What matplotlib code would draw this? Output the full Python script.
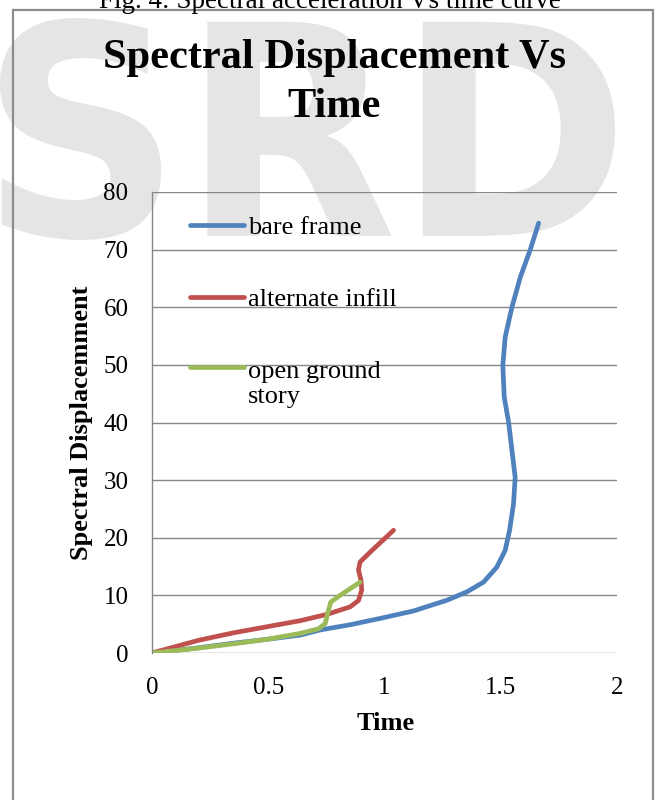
import matplotlib
matplotlib.use('Agg')
import matplotlib.pyplot as plt
from matplotlib.textpath import TextPath
from matplotlib.patches import PathPatch, Rectangle
from matplotlib.font_manager import FontProperties
from matplotlib.transforms import Affine2D

plt.rcParams['font.family'] = ['Liberation Serif', 'DejaVu Serif']

# values
bare_t = [0, 0.10, 0.20, 0.35, 0.50, 0.637, 0.723, 0.852, 0.981, 1.125, 1.268, 1.354,
          1.426, 1.483, 1.519, 1.538, 1.555, 1.562, 1.548, 1.534, 1.515, 1.509, 1.519,
          1.548, 1.584, 1.627, 1.663]
bare_d = [0, 0.45, 0.9, 1.7, 2.4, 3.1, 4.0, 4.9, 6.0, 7.3, 9.15, 10.6,
          12.3, 14.9, 17.8, 21.3, 25.9, 30.5, 35.2, 40.0, 44.4, 49.9, 54.8,
          60.0, 65.2, 70.0, 74.6]

alt_t = [0, 0.20, 0.35, 0.50, 0.637, 0.71, 0.752, 0.852, 0.888, 0.902, 0.899, 0.888,
         0.895, 0.946, 1.039]
alt_d = [0, 2.2, 3.5, 4.6, 5.6, 6.3, 6.7, 8.0, 9.1, 10.9, 12.6, 14.4,
         15.8, 17.8, 21.3]

ogs_t = [0, 0.20, 0.35, 0.50, 0.637, 0.716, 0.745, 0.759, 0.769, 0.809, 0.895]
ogs_d = [0, 0.85, 1.6, 2.4, 3.4, 4.2, 5.1, 7.4, 8.85, 10.0, 12.3]

series = [
    ('bare frame', bare_t, bare_d, '#4F81BD'),
    ('alternate infill', alt_t, alt_d, '#C0504D'),
    ('open ground\nstory', ogs_t, ogs_d, '#9BBB59'),
]

fig = plt.figure(figsize=(6.61, 8.0), dpi=100)
W, H = 661.0, 800.0

# faint watermark behind everything
tp = TextPath((0, 0), 'SRD', size=100,
              prop=FontProperties(family='DejaVu Sans', weight='bold'))
bb = tp.get_extents()
sx = 615.0 / bb.width / W
sy = 222.0 / bb.height / H
wm_tr = Affine2D().translate(-bb.x0, -bb.y0).scale(sx, sy).translate(0, 1 - 240 / H)
fig.add_artist(PathPatch(tp, transform=wm_tr + fig.transFigure,
                         facecolor='#e5e5e5', edgecolor='none', zorder=-2))

# outer frame of the chart
fig.add_artist(Rectangle((13 / W, -0.02), (653 - 13) / W, 1 - 10 / H + 0.02,
                         transform=fig.transFigure, fill=False,
                         edgecolor='#8c8c8c', lw=1.6, zorder=-1))

# cut-off caption at the very top
fig.text(330 / W, 1 - 8 / H, 'Fig. 4: Spectral acceleration Vs time curve',
         ha='center', va='baseline', fontsize=19.5)

ax = fig.add_axes([152 / W, 1 - 653 / H, (617 - 152) / W, (653 - 192) / H])
ax.set_facecolor('none')

for name, t, d, c in series:
    ax.plot(t, d, color=c, lw=3.4, solid_capstyle='round', solid_joinstyle='round')

ax.set_xlim(0, 2)
ax.set_ylim(0, 80)
ax.set_xticks([0, 0.5, 1, 1.5, 2])
ax.set_xticklabels(['0', '0.5', '1', '1.5', '2'])
ax.set_yticks(range(0, 81, 10))
ax.grid(axis='y', color='#878787', lw=1.0)
ax.set_axisbelow(True)
for s in ['top', 'right', 'bottom']:
    ax.spines[s].set_visible(False)
ax.spines['left'].set_color('#878787')
ax.spines['left'].set_linewidth(1.0)
ax.tick_params(length=0, labelsize=18)
ax.tick_params(axis='y', pad=17)
ax.tick_params(axis='x', pad=17)

# legend drawn by hand so the green key sits on the first text line
key_y = [0.928, 0.773, 0.621]
line_gap = 0.0597  # one text line, in axes fraction
for (name, t, d, c), ky in zip(series, key_y):
    ax.plot([0.0817, 0.1978], [ky, ky], transform=ax.transAxes, color=c, lw=3.4,
            solid_capstyle='round', clip_on=False)
    # va='baseline' pins the last line, so push multi-line labels down
    ax.text(0.2065, ky - 0.02 - name.count('\n') * line_gap, name,
            transform=ax.transAxes, fontsize=19, va='baseline', ha='left',
            linespacing=1.2)

fig.text(334 / W, 1 - 68 / H, 'Spectral Displacement Vs', ha='center', va='baseline',
         fontsize=30.5, fontweight='bold')
fig.text(334 / W, 1 - 117 / H, 'Time', ha='center', va='baseline',
         fontsize=30.5, fontweight='bold')
fig.text(386 / W, 1 - 723 / H, 'Time', ha='center', va='center', fontsize=19,
         fontweight='bold')
fig.text(82 / W, 1 - 423 / H, 'Spectral Displacemment', ha='center', va='center',
         rotation=90, fontsize=19, fontweight='bold')

fig.savefig('out.png', dpi=100)
